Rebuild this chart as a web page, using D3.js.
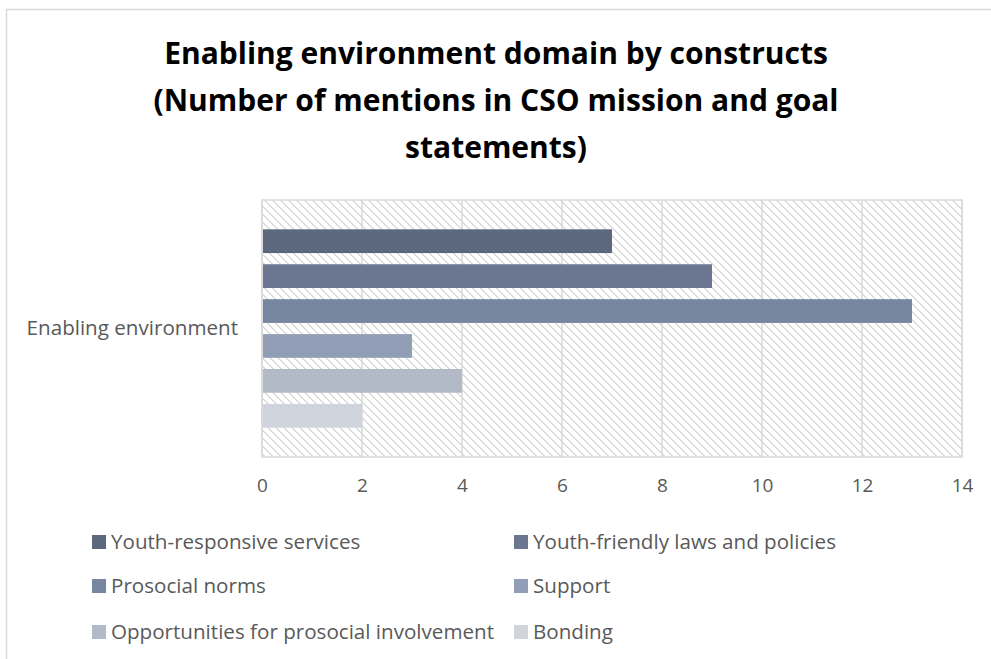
<!DOCTYPE html>
<html>
<head>
<meta charset="utf-8">
<script src="https://cdn.jsdelivr.net/npm/d3@7/dist/d3.min.js"></script>
<style>
  html, body { margin: 0; padding: 0; background: #fff; }
  svg { display: block; }
</style>
</head>
<body>
<svg id="chart" width="991" height="659"></svg>
<script>
// Chart content
const titleLines = [
  "Enabling environment domain by constructs",
  "(Number of mentions in CSO mission and goal",
  "statements)"
];
const category = "Enabling environment";
const seriesNames = [
  "Youth-responsive services",
  "Youth-friendly laws and policies",
  "Prosocial norms",
  "Support",
  "Opportunities for prosocial involvement",
  "Bonding"
];
const seriesValues = [7, 9, 13, 3, 4, 2];
const seriesColors = ["#5c687d", "#6b7790", "#7787a0", "#929eb5", "#b2bac7", "#cfd4dd"];
const xTicks = [0, 2, 4, 6, 8, 10, 12, 14];

const svg = d3.select("#chart");
const font = "Open Sans, sans-serif";
const textColor = "#595959";
const gridColor = "#d9d9d9";
const labelSize = 20.6;

// Diagonal hatch fill for the plot area
const defs = svg.append("defs");
const pat = defs.append("pattern")
  .attr("id", "hatch")
  .attr("patternUnits", "userSpaceOnUse")
  .attr("width", 8).attr("height", 8);
pat.append("rect").attr("width", 8).attr("height", 8).attr("fill", "#fff");
for (let i = 0; i < 8; i++) {
  pat.append("rect")
    .attr("x", i).attr("y", i).attr("width", 1).attr("height", 1)
    .attr("fill", "#d4d4d4");
  pat.append("rect")
    .attr("x", (i + 1) % 8).attr("y", i).attr("width", 1).attr("height", 1)
    .attr("fill", "#e4e4e4");
}

// Outer chart frame
svg.append("rect")
  .attr("x", 6.5).attr("y", 9.5)
  .attr("width", 1000).attr("height", 700)
  .attr("fill", "#fff")
  .attr("stroke", gridColor).attr("stroke-width", 1.5);

// Title
svg.append("text")
  .attr("x", 496).attr("y", 64)
  .attr("text-anchor", "middle")
  .attr("font-family", font)
  .attr("font-weight", "bold")
  .attr("font-size", 30)
  .attr("fill", "#000")
  .selectAll("tspan")
  .data(titleLines)
  .join("tspan")
  .attr("x", 496)
  .attr("dy", (d, i) => i === 0 ? 0 : 47)
  .text(d => d);

// Plot area
const plot = { left: 262, right: 962, top: 200, bottom: 457 };

const x = d3.scaleLinear()
  .domain([xTicks[0], xTicks[xTicks.length - 1]])
  .range([plot.left, plot.right]);

const y = d3.scaleBand()
  .domain(seriesNames)
  .range([plot.top, plot.bottom])
  .paddingInner(0.32)
  .paddingOuter(0.84);

svg.append("rect")
  .attr("x", plot.left).attr("y", plot.top)
  .attr("width", plot.right - plot.left)
  .attr("height", plot.bottom - plot.top)
  .attr("fill", "url(#hatch)");

// Vertical gridlines
svg.append("g")
  .selectAll("line")
  .data(xTicks)
  .join("line")
  .attr("x1", d => x(d)).attr("x2", d => x(d))
  .attr("y1", plot.top).attr("y2", plot.bottom)
  .attr("stroke", gridColor).attr("stroke-width", 1.5);

// Plot border
svg.append("rect")
  .attr("x", plot.left).attr("y", plot.top)
  .attr("width", plot.right - plot.left)
  .attr("height", plot.bottom - plot.top)
  .attr("fill", "none")
  .attr("stroke", gridColor).attr("stroke-width", 1.5);

// Bars
svg.append("g")
  .selectAll("rect")
  .data(seriesNames.map((n, i) => ({ name: n, value: seriesValues[i], color: seriesColors[i] })))
  .join("rect")
  .attr("x", x(0) + 1)
  .attr("y", d => y(d.name))
  .attr("width", d => x(d.value) - x(0) - 1)
  .attr("height", y.bandwidth())
  .attr("fill", d => d.color);

// X axis labels
const xAxis = d3.axisBottom(x).tickValues(xTicks).tickSize(0).tickPadding(22);
const gx = svg.append("g")
  .attr("transform", `translate(0,${plot.bottom})`)
  .call(xAxis);
gx.select(".domain").remove();
gx.selectAll("text")
  .attr("font-family", font)
  .attr("font-size", 19)
  .attr("fill", textColor);

// Category label
svg.append("text")
  .attr("x", 238).attr("y", 335)
  .attr("text-anchor", "end")
  .attr("font-family", font)
  .attr("font-size", labelSize)
  .attr("fill", textColor)
  .text(category);

// Legend: two columns, three rows
const legendCols = [92, 514];
const legendRows = [542, 586, 632];
const lg = svg.append("g")
  .selectAll("g")
  .data(seriesNames.map((n, i) => ({ name: n, color: seriesColors[i], col: i % 2, row: Math.floor(i / 2) })))
  .join("g")
  .attr("transform", d => `translate(${legendCols[d.col]},${legendRows[d.row]})`);
lg.append("rect")
  .attr("x", 0).attr("y", -7)
  .attr("width", 14).attr("height", 14)
  .attr("fill", d => d.color);
lg.append("text")
  .attr("x", 19).attr("y", 7)
  .attr("font-family", font)
  .attr("font-size", labelSize)
  .attr("fill", textColor)
  .text(d => d.name);
</script>
</body>
</html>
